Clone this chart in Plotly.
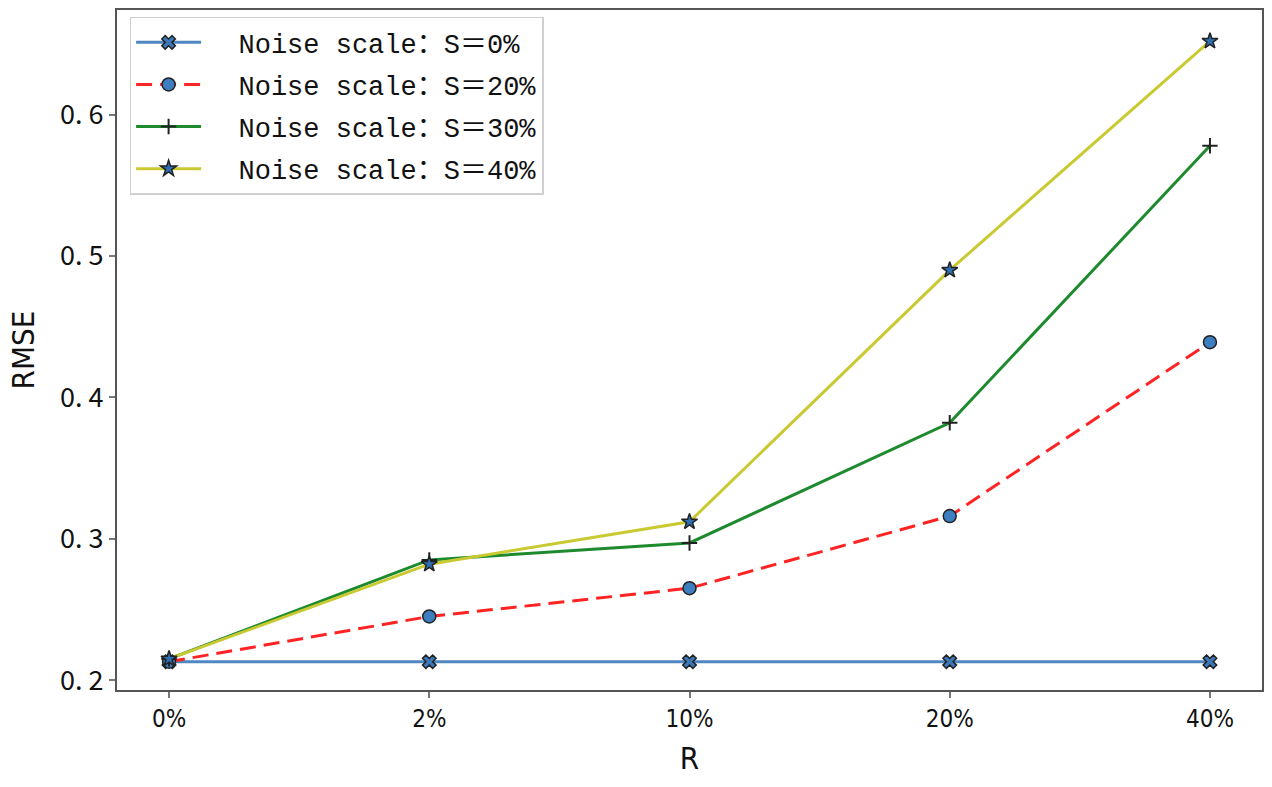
import plotly.graph_objects as go

categories = ["0%", "2%", "10%", "20%", "40%"]
s0 = [0.213, 0.213, 0.213, 0.213, 0.213]
s20 = [0.213, 0.245, 0.265, 0.316, 0.439]
s30 = [0.215, 0.285, 0.297, 0.382, 0.578]
s40 = [0.215, 0.282, 0.312, 0.490, 0.652]
names = ["\u00a0\u00a0Noise scale：S＝0%", "\u00a0\u00a0Noise scale：S＝20%",
         "\u00a0\u00a0Noise scale：S＝30%", "\u00a0\u00a0Noise scale：S＝40%"]
yticks = [0.2, 0.3, 0.4, 0.5, 0.6]
yticktext = ["0. 2", "0. 3", "0. 4", "0. 5", "0. 6"]

x = list(range(len(categories)))
fig = go.Figure()
fig.add_trace(go.Scatter(x=x, y=s0, name=names[0], mode="lines+markers", legendgroup="a",
    line=dict(color="#4f87c0", width=3),
    marker=dict(symbol="x", size=12, color="#3c78b8", line=dict(color="#222222", width=1.5))))
fig.add_trace(go.Scatter(x=x, y=s20, name=names[1], mode="lines+markers", legendgroup="b",
    line=dict(color="#ff2424", width=3, dash="16px,8px"),
    marker=dict(symbol="circle", size=13, color="#3c7ec0", line=dict(color="#222222", width=1.5))))
fig.add_trace(go.Scatter(x=x, y=s30, name=names[2], mode="lines+markers", legendgroup="c",
    line=dict(color="#1e8a2e", width=3),
    marker=dict(symbol="cross-thin", size=11, color="#222222", line=dict(color="#222222", width=2))))
fig.add_trace(go.Scatter(x=x, y=s40, name=names[3], mode="lines+markers", legendgroup="d",
    line=dict(color="#c9c932", width=3),
    marker=dict(symbol="star", size=12, color="#2f6fb0", line=dict(color="#222222", width=1.5))))

axis_common = dict(showline=True, linecolor="#555555", linewidth=2, mirror=True,
                   ticks="outside", ticklen=6, tickcolor="#777777", tickwidth=1.5,
                   showgrid=False, zeroline=False)
narrow = "DejaVu Sans Condensed, Noto Sans CJK SC"
fig.update_layout(
    width=1272, height=787,
    margin=dict(l=117, r=10, t=8, b=97),
    plot_bgcolor="white", paper_bgcolor="white",
    font=dict(family="Noto Sans CJK SC", color="#111111"),
    xaxis=dict(range=[-0.2, 4.2], tickvals=x, ticktext=categories,
               tickfont=dict(size=24, family=narrow),
               title=dict(text="R", font=dict(size=31, family=narrow), standoff=16),
               **axis_common),
    yaxis=dict(range=[0.193, 0.674], tickvals=yticks, ticktext=yticktext,
               tickfont=dict(size=27, family="Noto Sans CJK SC"),
               title=dict(text="RMSE", font=dict(size=31, family=narrow), standoff=16),
               **axis_common),
    legend=dict(x=0.011, y=0.99, xanchor="left", yanchor="top",
                bgcolor="rgba(255,255,255,0.9)", bordercolor="#d0d0d0", borderwidth=1.5,
                font=dict(size=27, family="Liberation Mono, Noto Sans CJK SC"),
                itemwidth=65, tracegroupgap=4),
)
fig.write_html("out.html", config={"displayModeBar": False},
               post_script="document.body.style.margin='0px';")
